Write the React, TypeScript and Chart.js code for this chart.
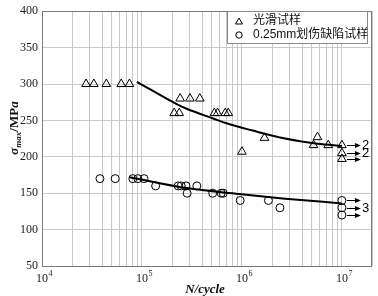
import React, { useEffect, useRef } from "react";
import { Chart, registerables } from "chart.js";

Chart.register(...registerables);

// ---- data ----
const smoothN = [2.76e4, 3.3e4, 4.4e4, 6.2e4, 7.5e4, 2.1e5, 2.36e5, 2.41e5, 3.02e5, 3.79e5, 5.3e5, 5.7e5, 6.8e5, 7.3e5, 1.0e6, 1.68e6, 5.2e6, 5.7e6, 7.3e6, 1e7, 1e7, 1e7];
const smoothS = [300, 300, 300, 300, 300, 260, 260, 280, 280, 280, 260, 260, 260, 260, 207, 226, 216, 227, 216, 216, 205, 197];

const notchN = [3.8e4, 5.4e4, 8.1e4, 9.1e4, 1.05e5, 1.37e5, 2.3e5, 2.47e5, 2.76e5, 2.83e5, 3.54e5, 5.1e5, 6.2e5, 6.5e5, 9.6e5, 1.84e6, 2.4e6, 1e7, 1e7, 1e7];
const notchS = [170, 170, 170, 170, 170, 160, 160, 160, 160, 150, 160, 150, 150, 150, 140, 140, 130, 140, 130, 120];

const curve2N = [8.9e4, 2.25e5, 2.8e5, 5.3e5, 7.0e5, 1.28e6, 2.7e6, 5.7e6, 1e7];
const curve2S = [303, 272, 266, 252, 246, 236, 225, 218, 215];

const curve3N = [7.5e4, 2.8e5, 9.3e5, 2.7e6, 1e7];
const curve3S = [172, 157, 149, 142.5, 136];

const runoutN = 1e7;
const runoutSmoothS = [216, 205, 197];
const runoutSmoothLabels = ["2", "2", ""];
const runoutNotchS = [140, 130, 120];
const runoutNotchLabels = ["", "3", ""];

const xMin = 1e4;
const xMax = 2e7;
const xTickExponents = [4, 5, 6, 7];
const xGridMultipliers = [1, 2, 3, 4, 5, 6, 7, 8, 9];
const xGridExtra = [1e7, 2e7];
const yMin = 50;
const yMax = 400;
const yStep = 50;

const legendLabels = ["光滑试样", "0.25mm划伤缺陷试样"];
const xTitle = "N/cycle";

const toXY = (xs: number[], ys: number[]) => xs.map((v, i) => ({ x: v, y: ys[i] }));

const SERIF = '"Liberation Serif", "Times New Roman", serif';
const SANS = '"Liberation Sans", Arial, "Noto Sans CJK SC", sans-serif';

function drawTriangle(ctx: CanvasRenderingContext2D, x: number, y: number, r: number) {
  ctx.beginPath();
  ctx.moveTo(x, y - r);
  ctx.lineTo(x + r * 0.866, y + r * 0.5);
  ctx.lineTo(x - r * 0.866, y + r * 0.5);
  ctx.closePath();
  ctx.stroke();
}

const decorPlugin = {
  id: "decor",
  afterDraw(chart: any) {
    const ctx: CanvasRenderingContext2D = chart.ctx;
    const a = chart.chartArea;
    const xs = chart.scales.x;
    const ys = chart.scales.y;
    ctx.save();

    // frame
    ctx.strokeStyle = "#7a7a7a";
    ctx.lineWidth = 1;
    ctx.strokeRect(Math.round(a.left) + 0.5, Math.round(a.top) + 0.5, Math.round(a.right - a.left) - 1, Math.round(a.bottom - a.top));

    // x tick labels 10^n
    ctx.fillStyle = "#222";
    for (const e of xTickExponents) {
      const px = xs.getPixelForValue(Math.pow(10, e));
      ctx.font = `12px ${SERIF}`;
      ctx.textAlign = "center";
      ctx.textBaseline = "alphabetic";
      ctx.fillText("10", px, 282);
      const w = ctx.measureText("10").width;
      ctx.font = `8px ${SERIF}`;
      ctx.textAlign = "left";
      ctx.fillText(String(e), px + w / 2 + 0.5, 276);
    }

    // x title
    ctx.font = `italic bold 13px ${SERIF}`;
    ctx.textAlign = "center";
    ctx.fillStyle = "#111";
    ctx.fillText(xTitle, 205, 293);

    // y title: sigma_max / MPa (rotated)
    ctx.save();
    ctx.translate(14, 128);
    ctx.rotate(-Math.PI / 2);
    const parts: [string, string, number][] = [
      ["σ", `italic bold 13px ${SERIF}`, 0],
      ["max", `italic bold 9px ${SERIF}`, 3],
      ["/MP", `bold 13px ${SERIF}`, 0],
      ["a", `italic bold 13px ${SERIF}`, 0],
    ];
    let total = 0;
    for (const [t, f] of parts) { ctx.font = f; total += ctx.measureText(t).width; }
    let cx = -total / 2;
    ctx.textAlign = "left";
    ctx.textBaseline = "alphabetic";
    for (const [t, f, dy] of parts) {
      ctx.font = f;
      ctx.fillText(t, cx, 4 + dy);
      cx += ctx.measureText(t).width;
    }
    ctx.restore();

    // runout arrows
    const rx = xs.getPixelForValue(runoutN);
    const drawArrow = (yy: number, label: string) => {
      const x0 = rx + 5;
      const x1 = rx + 19;
      ctx.strokeStyle = "#000";
      ctx.fillStyle = "#000";
      ctx.lineWidth = 1;
      ctx.beginPath();
      ctx.moveTo(x0, yy);
      ctx.lineTo(x1 - 4, yy);
      ctx.stroke();
      ctx.beginPath();
      ctx.moveTo(x1, yy);
      ctx.lineTo(x1 - 6, yy - 2.5);
      ctx.lineTo(x1 - 6, yy + 2.5);
      ctx.closePath();
      ctx.fill();
      if (label) {
        ctx.font = `13px ${SANS}`;
        ctx.textAlign = "left";
        ctx.textBaseline = "middle";
        ctx.fillText(label, x1 + 1, yy);
      }
    };
    runoutSmoothS.forEach((s, i) => drawArrow(Math.round(ys.getPixelForValue(s)) + 0.5, runoutSmoothLabels[i]));
    runoutNotchS.forEach((s, i) => drawArrow(Math.round(ys.getPixelForValue(s)) + 0.5, runoutNotchLabels[i]));

    // legend
    const lx = 227.5, ly = 11.5, lw = 140, lh = 32;
    ctx.fillStyle = "#fff";
    ctx.fillRect(lx, ly, lw, lh);
    ctx.strokeStyle = "#8a8a8a";
    ctx.strokeRect(lx, ly, lw, lh);
    ctx.strokeStyle = "#000";
    ctx.lineWidth = 1;
    drawTriangle(ctx, 239, 22, 4);
    ctx.beginPath();
    ctx.arc(239, 35, 3.2, 0, Math.PI * 2);
    ctx.stroke();
    ctx.fillStyle = "#111";
    ctx.font = `12px ${SANS}`;
    ctx.textAlign = "left";
    ctx.textBaseline = "middle";
    ctx.fillText(legendLabels[0], 253, 21);
    ctx.fillText(legendLabels[1], 253, 35);

    ctx.restore();
  },
};

export default function App() {
  const ref = useRef<HTMLCanvasElement | null>(null);
  useEffect(() => {
    document.body.style.margin = "0";
    if (!ref.current) return;
    const gridValues: number[] = [];
    for (const e of xTickExponents.slice(0, 3)) for (const m of xGridMultipliers) gridValues.push(m * Math.pow(10, e));
    gridValues.push(...xGridExtra);

    const chart = new Chart(ref.current, {
      type: "scatter",
      data: {
        datasets: [
          {
            label: legendLabels[0],
            data: toXY(smoothN, smoothS),
            pointStyle: "triangle",
            pointRadius: 5,
            borderColor: "#000",
            backgroundColor: "rgba(0,0,0,0)",
            borderWidth: 1,
            showLine: false,
          },
          {
            label: legendLabels[1],
            data: toXY(notchN, notchS),
            pointStyle: "circle",
            pointRadius: 4,
            borderColor: "#000",
            backgroundColor: "rgba(0,0,0,0)",
            borderWidth: 1,
            showLine: false,
          },
          {
            label: "fit2",
            data: toXY(curve2N, curve2S),
            showLine: true,
            pointRadius: 0,
            borderColor: "#000",
            borderWidth: 2,
            cubicInterpolationMode: "monotone",
            fill: false,
          },
          {
            label: "fit3",
            data: toXY(curve3N, curve3S),
            showLine: true,
            pointRadius: 0,
            borderColor: "#000",
            borderWidth: 2,
            cubicInterpolationMode: "monotone",
            fill: false,
          },
        ] as any,
      },
      options: {
        responsive: false,
        animation: false,
        events: [],
        layout: { padding: { left: 0, top: 6, right: 2, bottom: 0 } },
        plugins: { legend: { display: false }, tooltip: { enabled: false }, title: { display: false } },
        scales: {
          x: {
            type: "logarithmic",
            min: xMin,
            max: xMax,
            afterBuildTicks: (s: any) => {
              s.ticks = gridValues.map((v) => ({ value: v }));
            },
            afterFit: (s: any) => {
              s.height = 30;
            },
            ticks: { display: false },
            grid: { color: "#c9c9c9", drawTicks: false, lineWidth: 1 },
            border: { display: false },
          },
          y: {
            type: "linear",
            min: yMin,
            max: yMax,
            afterFit: (s: any) => {
              s.width = 42;
            },
            ticks: {
              stepSize: yStep,
              padding: 4,
              color: "#222",
              font: { family: SERIF, size: 12 },
            },
            grid: { color: "#c9c9c9", drawTicks: false, lineWidth: 1 },
            border: { display: false },
          },
        },
      } as any,
      plugins: [decorPlugin],
    });
    return () => chart.destroy();
  }, []);

  return (
    <div style={{ position: "absolute", left: 0, top: 0, width: 378, height: 296, background: "#fff" }}>
      <canvas ref={ref} width={378} height={296} />
    </div>
  );
}
